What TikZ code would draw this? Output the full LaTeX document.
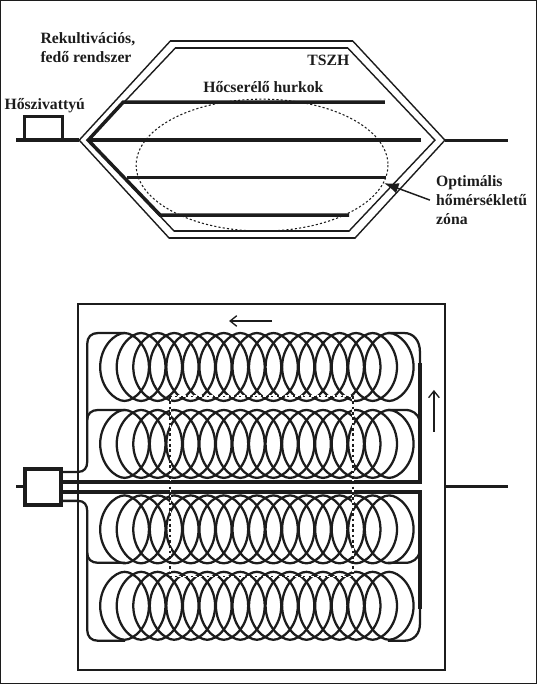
\documentclass[tikz,border=0pt]{standalone}
\usepackage{fontspec}
\setmainfont{Liberation Serif}
\usetikzlibrary{arrows.meta}
\definecolor{ink}{HTML}{1C1C1C}
\tikzset{
  x=0.75pt,y=-0.75pt,
  every path/.append style={draw=ink},
  thinline/.style={line width=1.05pt,line join=miter},
  flatline/.style={line width=1.5pt},
  heavy/.style={line width=2.6pt},
  medium/.style={line width=2.1pt},
  coil/.style={line width=1.7pt},
  box/.style={draw=ink,line width=2.8pt,fill=white,inner sep=0pt,minimum width=27pt,minimum height=27pt},
  lab/.style={draw=none,font=\bfseries\fontsize{11.8pt}{14.2pt}\selectfont,text=ink,inner sep=0pt,align=left},
  thinarrow/.style={line width=1.2pt,-{Straight Barb[length=5pt,width=8pt,line width=1pt]}},
  dotline/.style={line width=0.8pt,dash pattern=on 1.6pt off 1.6pt},
}
% one loop of a coil: a little pointier at top and bottom than an ellipse
\newcommand{\loopat}[2]{%
  \draw[coil] (#1-24.4,#2)
    .. controls (#1-24.4,#2-20) and (#1-10,#2-34) .. (#1,#2-34)
    .. controls (#1+10,#2-34) and (#1+24.4,#2-20) .. (#1+24.4,#2)
    .. controls (#1+24.4,#2+20) and (#1+10,#2+34) .. (#1,#2+34)
    .. controls (#1-10,#2+34) and (#1-24.4,#2+20) .. (#1-24.4,#2) -- cycle;%
}
\newcommand{\coilrow}[1]{%
  \foreach \k in {0,...,16}{
    \pgfmathsetmacro{\cx}{124.4+16.55*\k}
    \loopat{\cx}{#1}
  }%
}
\begin{document}
\begin{tikzpicture}
\useasboundingbox (0,0) rectangle (536,684);
% --- upper section
\coordinate (oL) at (79,140); \coordinate (oR) at (445,140);
\coordinate (iL) at (88,140);
\draw[thinline] (oL) -- (170,41) -- (353,41) -- (oR) -- (355,238) -- (169,238) -- cycle;
\draw[thinline] (iL) -- (175,48) -- (348,48) -- (435,140) -- (349,231) -- (174,231) -- cycle;
\draw[flatline] (170,41) -- (353,41);
\draw[flatline] (175,48) -- (348,48);
\draw[flatline] (174,231) -- (349,231);
\draw[flatline] (169,238) -- (355,238);
\draw[dotline] (262,165) ellipse [x radius=126,y radius=66];
\draw[heavy,line join=miter] (385,102) -- (123,102) -- (iL) -- (160,215) -- (349,215);
\draw[heavy] (iL) -- (421,140);
\draw[medium] (127,177) -- (386,177);
\coordinate (pumpL) at (16,140);
\draw[heavy] (pumpL) -- (oL);
\draw[line width=2.2pt,line join=miter] (24,140) -- (24,116) -- (62,116) -- (62,140);
\draw[medium] (oR) -- (508,140);
\coordinate (optS) at (430,200); \coordinate (optE) at (384,183);
\draw[line width=1.1pt,-{Latex[length=11pt,width=8pt]}] (optS) -- (optE);
\node[lab,anchor=base west] (tRek) at (40,43) {Rekultivációs,};
\node[lab,anchor=base west] (tFed) at (40,62) {fedő rendszer};
\node[lab,anchor=base west] (tHos) at (4,109) {Hőszivattyú};
\node[lab,anchor=base west] (tHoc) at (203,92) {Hőcserélő hurkok};
\node[lab,anchor=base west] (tTSZ) at (307,65) {TSZH};
\node[lab,anchor=base west] (tOpt) at (436,186) {Optimális};
\node[lab,anchor=base west] (tHom) at (436,205) {hőmérsékletű};
\node[lab,anchor=base west] (tZon) at (436,224) {zóna};
% --- lower section
\draw[line width=1.5pt,line join=miter] (78,304) rectangle (445,670);
\coilrow{367}\coilrow{444}\coilrow{529.5}\coilrow{606}
% pipes left
\draw[coil] (62,472) -- (78,472) .. controls (84,472) and (87,468) .. (87,462) -- (87,344)
  .. controls (87,337) and (91,333) .. (98,333) -- (125,333);
\draw[coil] (87,420) .. controls (87,414) and (91,410) .. (98,410) -- (125,410);
\draw[coil] (62,501) -- (78,501) .. controls (84,501) and (87,505) .. (87,511) -- (87,630)
  .. controls (87,637) and (91,641) .. (98,641) -- (125,641);
\draw[coil] (87,553) .. controls (87,559) and (91,563) .. (98,563) -- (125,563);
% pipes right
\draw[coil] (388,333) -- (404,333) .. controls (414,333) and (420,341) .. (420,352) -- (420,365);
\draw[coil] (388,410) -- (405,410) .. controls (413,410) and (418,414) .. (420,421);
\draw[coil] (388,563) -- (405,563) .. controls (413,563) and (418,559) .. (420,552);
\draw[coil] (388,641) -- (404,641) .. controls (414,641) and (420,634) .. (420,624) -- (420,607);
% heavy pipes
\draw[heavy,line join=miter] (62,482) -- (420,482) -- (420,363);
\draw[heavy,line join=miter] (62,492) -- (420,492) -- (420,609);
\draw[medium] (445,487) -- (508,487);
% dotted zone
\draw[line width=0.9pt,white,dash pattern=on 2pt off 2pt,dash phase=2pt] (170,396) -- (353,396);
\draw[line width=0.9pt,white,dash pattern=on 2pt off 2pt,dash phase=2pt] (170,577) -- (353,577);
\draw[line width=0.9pt,white,dash pattern=on 2pt off 2pt,dash phase=2pt] (170,396) -- (170,577);
\draw[line width=0.9pt,white,dash pattern=on 2pt off 2pt,dash phase=2pt] (353,396) -- (353,577);
\draw[line width=0.5pt,dash pattern=on 1.5pt off 2.5pt] (170,396) -- (353,396);
\draw[line width=0.5pt,dash pattern=on 1.5pt off 2.5pt] (170,577) -- (353,577);
\draw[line width=1.1pt,dash pattern=on 2pt off 2pt] (170,396) -- (170,577);
\draw[line width=1.1pt,dash pattern=on 2pt off 2pt] (353,396) -- (353,577);
% box
\node[box] (pump) at (43,487) {};
\coordinate (pumpIn) at (16,487);
\draw[medium] (pumpIn) -- (pump.west);
% flow arrows
\coordinate (a1) at (272,321); \coordinate (a2) at (229,321);
\draw[thinarrow] (a1) -- (a2);
\coordinate (b1) at (434,432); \coordinate (b2) at (434,390);
\draw[thinarrow] (b1) -- (b2);
\end{tikzpicture}
\end{document}
